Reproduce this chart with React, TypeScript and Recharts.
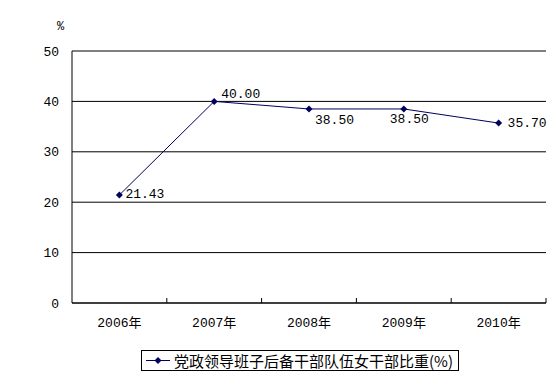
import React from 'react';
import {CartesianGrid, LabelList, Line, LineChart, XAxis, YAxis} from 'recharts';

const years = ['2006年', '2007年', '2008年', '2009年', '2010年'];
const shares = [21.43, 40.0, 38.5, 38.5, 35.7];
const yTicks = [0, 10, 20, 30, 40, 50];
const seriesName = '党政领导班子后备干部队伍女干部比重(%)';

const data = years.map((year, i) => ({year, share: shares[i]}));

const NAVY = '#00005e';
const NUM_FONT = "'Liberation Mono', 'Noto Sans CJK SC', monospace";
// where each value label sits relative to its point: [dx of text start, dy of text middle]
const LABEL_OFFSETS: [number, number][] = [[6, 0], [7, -7], [6, 12], [-14, 11], [9, 0]];

const Diamond = (props: any) => {
    const {cx, cy} = props;
    if (cx == null || cy == null) return null;
    return <polygon points={`${cx},${cy - 3.5} ${cx + 3.5},${cy} ${cx},${cy + 3.5} ${cx - 3.5},${cy}`} fill={NAVY} />;
};

const ValueLabel = (props: any) => {
    const {x, y, value, index} = props;
    const [dx, dy] = LABEL_OFFSETS[index] || [6, 0];
    return (
        <text x={x + dx} y={y + dy} dominantBaseline="central" fontFamily={NUM_FONT} fontSize={13} fill="#000">
            {Number(value).toFixed(2)}
        </text>
    );
};

// category label plus the small upward tick at the right edge of each category band
const YearTick = (props: any) => {
    const {x, y, payload} = props;
    const half = payload?.offset ?? 0;
    return (
        <g>
            <line x1={x + half} y1={y} x2={x + half} y2={y - 5} stroke="#000" />
            <text x={x} y={y + 20} textAnchor="middle" dominantBaseline="central" fontFamily={NUM_FONT} fontSize={13} fill="#000">
                {payload.value}
            </text>
        </g>
    );
};

export default function App() {
    return (
        <div style={{position: 'absolute', left: 0, top: 0, width: 554, height: 379, background: '#fff'}}>
            <LineChart width={554} height={379} data={data} margin={{top: 51, right: 8, left: 0, bottom: 0}}>
                <XAxis
                    xAxisId="cat"
                    dataKey="year"
                    scale="band"
                    height={76}
                    interval={0}
                    tickLine={false}
                    tickSize={0}
                    tickMargin={0}
                    axisLine={{stroke: '#000'}}
                    tick={<YearTick />}
                />
                <YAxis
                    width={72}
                    domain={[0, 50]}
                    ticks={yTicks}
                    interval={0}
                    tickLine={false}
                    tickSize={0}
                    tickMargin={13}
                    axisLine={{stroke: '#000'}}
                    tick={{fill: '#000', fontSize: 13, fontFamily: NUM_FONT}}
                />
                <CartesianGrid xAxisId="cat" vertical={false} stroke="#000" />
                <Line
                    xAxisId="cat"
                    dataKey="share"
                    stroke={NAVY}
                    strokeWidth={1}
                    dot={<Diamond />}
                    activeDot={false}
                    isAnimationActive={false}
                >
                    <LabelList dataKey="share" content={<ValueLabel />} />
                </Line>
            </LineChart>
            <span style={{position: 'absolute', left: 57, top: 20, fontSize: 12, fontFamily: NUM_FONT}}>%</span>
            <div
                style={{
                    position: 'absolute',
                    left: 141,
                    top: 350,
                    width: 316,
                    height: 19,
                    border: '1px solid #000',
                    display: 'flex',
                    alignItems: 'center',
                    fontFamily: "'Noto Sans CJK SC', sans-serif",
                    fontSize: 15,
                    whiteSpace: 'nowrap',
                }}
            >
                <svg width={30} height={19} style={{flex: 'none'}}>
                    <line x1={4} y1={9.5} x2={28} y2={9.5} stroke={NAVY} />
                    <polygon points="16,6 19.5,9.5 16,13 12.5,9.5" fill={NAVY} />
                </svg>
                <span style={{marginLeft: 2}}>{seriesName}</span>
            </div>
        </div>
    );
}
